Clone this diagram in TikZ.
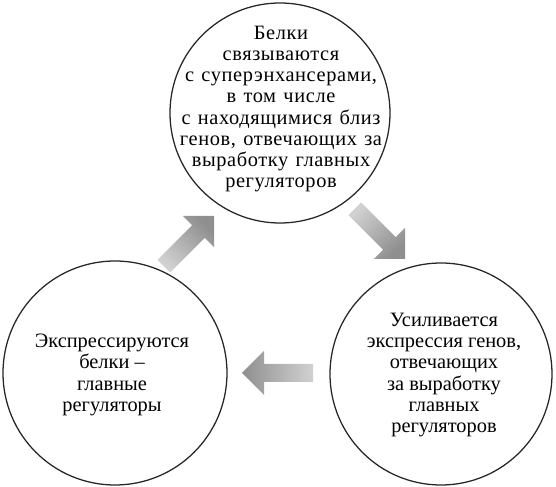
\documentclass[tikz,border=0pt]{standalone}
\usepackage{fontspec}
\setmainfont{Liberation Serif}
\newfontfamily\widefont[LetterSpace=3]{Liberation Serif}
\newcommand\widetext{\fontsize{14.5}{15.1}\widefont\spaceskip=0.36em\relax}
\tikzset{
	bubble/.style={circle, draw=black!85, line width=0.9pt, minimum size=#1, inner sep=0pt},
	bubbletext/.style={align=center, inner sep=0pt, font=\fontsize{14.5}{15.1}\selectfont},
	blockarrow/.style={top color=black!18, bottom color=black!44}
}
\begin{document}
\begin{tikzpicture}
			\useasboundingbox (0,0) rectangle (13.9,12.175);
			% circles
			\node[bubble=5.5cm] (A) at (7,9.35) {};
			\node[bubble=5.6cm] (L) at (2.875,2.85) {};
			\node[bubble=5.55cm] (R) at (11.025,2.825) {};
			% texts
			\node[bubbletext, font=\widetext] (tA) at (7.025,9.45) {Белки\\связываются\\с суперэнхансерами,\\в том числе\\с находящимися близ\\генов, отвечающих за\\выработку главных\\регуляторов};
			\node[bubbletext] (tL) at (2.8,2.8) {Экспрессируются\\белки --\\главные\\регуляторы};
			\node[bubbletext] (tR) at (11.1,2.8) {Усиливается\\экспрессия генов,\\отвечающих\\за выработку\\главных\\регуляторов};
			% arrows
			\shade[blockarrow, shading angle=135] (4.254,5.361)--(5.120,6.227)--(5.35,5.997)--(5.35,6.775)--(4.572,6.775)--(4.802,6.545)--(3.936,5.679)--cycle;
			\shade[blockarrow, shading angle=45] (8.711,6.796)--(9.577,5.930)--(9.347,5.7)--(10.125,5.7)--(10.125,6.478)--(9.895,6.248)--(9.029,7.114)--cycle;
			\shade[blockarrow, shading angle=270] (7.825,2.625)--(6.6,2.625)--(6.6,2.3)--(6.05,2.85)--(6.6,3.4)--(6.6,3.075)--(7.825,3.075)--cycle;
		\end{tikzpicture}
\end{document}
